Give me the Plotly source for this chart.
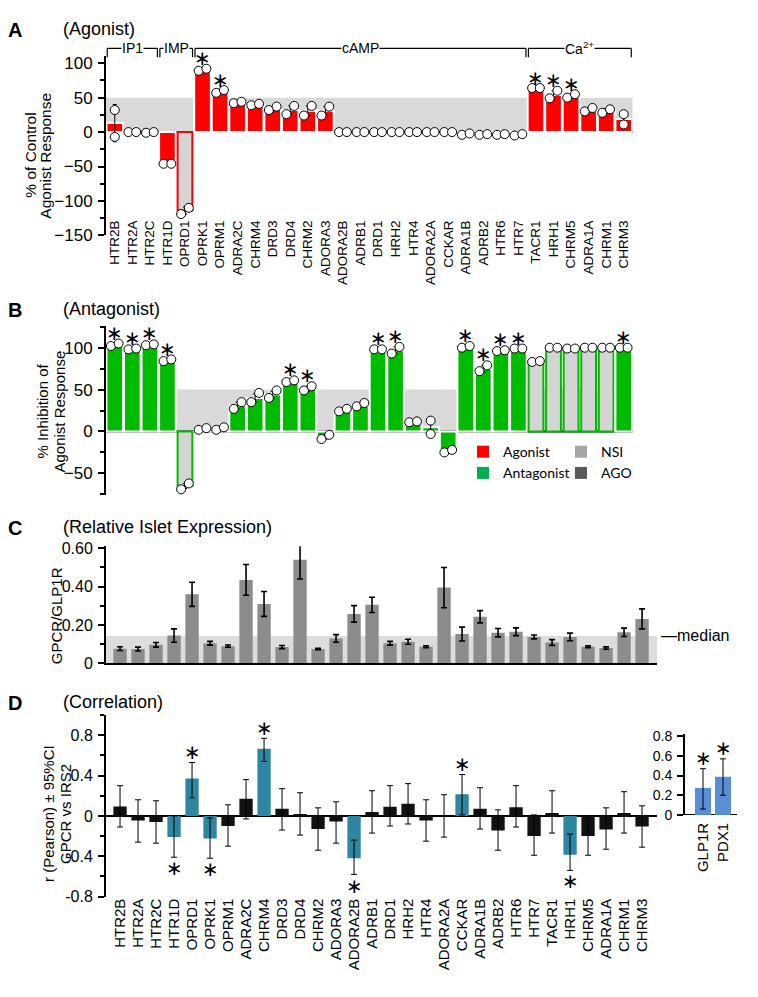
import plotly.graph_objects as go

W, H = 758, 997
OFF = 8  # default page margin of the html body
def fx(px): return (px - OFF) / W
def fy(py): return 1 - (py - OFF) / H

FONT = "Liberation Sans, Arial, sans-serif"
STAR = "\u2217"

receptors = ["HTR2B", "HTR2A", "HTR2C", "HTR1D", "OPRD1", "OPRK1", "OPRM1", "ADRA2C", "CHRM4",
             "DRD3", "DRD4", "CHRM2", "ADORA3", "ADORA2B", "ADRB1", "DRD1", "HRH2", "HTR4",
             "ADORA2A", "CCKAR", "ADRA1B", "ADRB2", "HTR6", "HTR7", "TACR1", "HRH1", "CHRM5",
             "ADRA1A", "CHRM1", "CHRM3"]

# ---------- Panel A (agonist) ----------
ago_mean = [13, 0, 0, -46, -114, 91, 59, 43, 40, 34, 32, 31, 31, 0, 0, 0, 0, 0, 0, 0,
            -3, -3, -4, -4, 64, 54, 52, 32, 31, 19]
ago_rep1 = [-7, 0, -1, -46, -119, 89, 57, 42, 39, 32, 26, 24, 24, 0, 0, 0, 0, 0, 0, 0,
            -4, -4, -4, -5, 64, 49, 50, 30, 28, 11]
ago_rep2 = [32, 0, 0, -46, -110, 92, 61, 44, 41, 37, 38, 38, 37, 0, 0, 0, 0, 0, 0, 0,
            -2, -3, -3, -3, 64, 60, 55, 35, 33, 26]
ago_sem = [27, 0, 0, 0, 5, 2, 2, 1, 1, 2, 6, 7, 6, 0, 0, 0, 0, 0, 0, 0,
           1, 1, 1, 1, 0, 6, 2, 3, 3, 7]
ago_nsi = ["OPRD1"]
ago_sig = ["OPRK1", "OPRM1", "TACR1", "HRH1", "CHRM5"]
group_names = ["IP1", "IMP", "cAMP", "Ca<sup>2+</sup>"]
group_first = ["HTR2B", "HTR1D", "OPRK1", "TACR1"]
group_last = ["HTR2C", "OPRD1", "HTR7", "CHRM3"]

# ---------- Panel B (antagonist) ----------
ant_mean = [104, 99, 103, 85, -65, 3, 4, 31, 40, 44, 60, 51, -7, 25, 31, 98, 97, 12, 5, -23,
            101, 75, 97, 99, 83, 100, 99, 100, 100, 100]
ant_rep1 = [102, 98, 103, 84, -69, 2, 2, 27, 35, 40, 59, 49, -9, 24, 30, 98, 93, 11, -3, -25,
            100, 72, 96, 99, 83, 100, 99, 100, 100, 100]
ant_rep2 = [105, 99, 104, 86, -62, 4, 5, 35, 46, 49, 61, 54, -4, 27, 34, 98, 101, 12, 13, -22,
            102, 79, 97, 99, 84, 100, 99, 100, 100, 100]
ant_sem = [2, 1, 0, 1, 3, 1, 1, 4, 5, 4, 1, 3, 2, 1, 2, 0, 4, 1, 7, 1,
           1, 4, 1, 0, 1, 0, 1, 0, 0, 0]
ant_nsi = ["OPRD1", "TACR1", "HRH1", "CHRM5", "ADRA1A", "CHRM1"]
ant_sig = ["HTR2B", "HTR2A", "HTR2C", "HTR1D", "DRD4", "CHRM2", "DRD1", "HRH2", "ADRA1B",
           "ADRB2", "HTR6", "HTR7", "CHRM3"]
legend_names = ["Agonist", "Antagonist", "NSI", "AGO"]

# ---------- Panel C (relative islet expression) ----------
expr_mean = [0.077, 0.075, 0.097, 0.145, 0.36, 0.105, 0.09, 0.435, 0.31, 0.085, 0.54, 0.075,
             0.13, 0.258, 0.305, 0.105, 0.113, 0.087, 0.395, 0.153, 0.243, 0.16, 0.165, 0.138,
             0.109, 0.138, 0.087, 0.08, 0.162, 0.232]
expr_sem = [0.01, 0.01, 0.012, 0.035, 0.063, 0.01, 0.006, 0.08, 0.065, 0.008, 0.1, 0.004,
            0.02, 0.043, 0.04, 0.01, 0.013, 0.005, 0.105, 0.036, 0.032, 0.022, 0.02, 0.01,
            0.015, 0.02, 0.005, 0.006, 0.022, 0.052]
expr_median = 0.143
c_tickvals = [0, 0.2, 0.4, 0.6]
c_ticktext = ["0", "0.20", "0.40", "0.60"]

# ---------- Panel D (correlation) ----------
corr_r = [0.094, -0.045, -0.06, -0.21, 0.37, -0.225, -0.1, 0.17, 0.665, 0.07, 0.02, -0.13,
          -0.055, -0.42, 0.04, 0.09, 0.12, -0.045, 0.0, 0.215, 0.07, -0.145, 0.085, -0.2,
          0.03, -0.385, -0.2, -0.135, 0.03, -0.105]
corr_hi = [0.30, 0.16, 0.15, 0.0, 0.53, -0.02, 0.11, 0.36, 0.77, 0.27, 0.23, 0.08,
           0.14, -0.24, 0.25, 0.30, 0.32, 0.16, 0.21, 0.41, 0.28, 0.06, 0.30, 0.01,
           0.25, -0.18, 0.0, 0.08, 0.24, 0.10]
corr_lo = [-0.11, -0.26, -0.27, -0.41, 0.18, -0.42, -0.30, -0.03, 0.54, -0.14, -0.19, -0.34,
           -0.27, -0.58, -0.17, -0.10, -0.08, -0.25, -0.21, 0.01, -0.13, -0.34, -0.11, -0.39,
           -0.17, -0.54, -0.39, -0.33, -0.17, -0.31]
corr_sig = ["HTR1D", "OPRD1", "OPRK1", "CHRM4", "ADORA2B", "CCKAR", "HRH1"]
ref_genes = ["GLP1R", "PDX1"]
ref_r = [0.275, 0.388]
ref_hi = [0.47, 0.57]
ref_lo = [0.06, 0.20]
d_tickvals = [-0.8, -0.4, 0, 0.4, 0.8]
d_ticktext = ["-0.8", "-0.4", "0", "0.4", "0.8"]
inset_tickvals = [0, 0.2, 0.4, 0.6, 0.8]
inset_ticktext = ["0", "0.2", "0.4", "0.6", "0.8"]

# ---------- colours / styles ----------
RED = "#ff0000"
GREEN = "#00bb00"
NSI_FILL = "#d4d4d4"
BAND = "#d9d9d9"
C_BAR = "#8c8c8c"
TEAL = "#2e86a3"
BLACKBAR = "#111111"
INSET = "#5a8fd8"
LEG_COLORS = ["#ff0000", "#00b050", "#a6a6a6", "#595959"]

n = len(receptors)
idx = list(range(n))
JIT = 0.22
STARFONT = dict(family="DejaVu Sans", size=20, color="black")

def jitter(r1, r2, pxscale):
    xs1, xs2 = [], []
    for i, (a, b) in enumerate(zip(r1, r2)):
        if abs(a - b) * pxscale > 10:
            xs1.append(i); xs2.append(i)
        else:
            xs1.append(i - JIT); xs2.append(i + JIT)
    return xs1, xs2

annotations = []
def add_stars(xs, ys, xr, yr):
    for x, y in zip(xs, ys):
        annotations.append(dict(x=x, y=y, xref=xr, yref=yr, text=STAR, showarrow=False,
                                font=STARFONT, xanchor="center", yanchor="middle"))

fig = go.Figure()

# Panel A bars
a_fill = [NSI_FILL if r in ago_nsi else RED for r in receptors]
a_line = [RED if r in ago_nsi else "white" for r in receptors]
a_width = [0.84 if r in ago_nsi else 0.95 for r in receptors]
fig.add_trace(go.Bar(x=idx, y=ago_mean, width=a_width, xaxis="x", yaxis="y",
                     marker=dict(color=a_fill, line=dict(color=a_line, width=2)),
                     error_y=dict(type="data", array=ago_sem, color="black", thickness=1, width=2),
                     showlegend=False, hoverinfo="skip"))
x1, x2 = jitter(ago_rep1, ago_rep2, 0.7)
fig.add_trace(go.Scatter(x=x1 + x2, y=ago_rep1 + ago_rep2, mode="markers", xaxis="x", yaxis="y",
                         marker=dict(size=9, color="white", line=dict(color="black", width=1)),
                         cliponaxis=False, showlegend=False, hoverinfo="skip"))
sx = [i for i, r in enumerate(receptors) if r in ago_sig]
add_stars(sx, [max(ago_rep1[i], ago_rep2[i]) + 15 for i in sx], "x", "y")

# Panel B bars
b_fill = [NSI_FILL if r in ant_nsi else GREEN for r in receptors]
b_line = [GREEN if r in ant_nsi else "white" for r in receptors]
b_width = [0.84 if r in ant_nsi else 0.95 for r in receptors]
fig.add_trace(go.Bar(x=idx, y=ant_mean, width=b_width, xaxis="x2", yaxis="y2",
                     marker=dict(color=b_fill, line=dict(color=b_line, width=2)),
                     error_y=dict(type="data", array=ant_sem, color="black", thickness=1, width=2),
                     showlegend=False, hoverinfo="skip"))
x1, x2 = jitter(ant_rep1, ant_rep2, 0.85)
fig.add_trace(go.Scatter(x=x1 + x2, y=ant_rep1 + ant_rep2, mode="markers", xaxis="x2", yaxis="y2",
                         marker=dict(size=9, color="white", line=dict(color="black", width=1)),
                         cliponaxis=False, showlegend=False, hoverinfo="skip"))
sx = [i for i, r in enumerate(receptors) if r in ant_sig]
add_stars(sx, [max(ant_rep1[i], ant_rep2[i]) + 13 for i in sx], "x2", "y2")
# legend entries
for k, (nm, col) in enumerate(zip(legend_names, LEG_COLORS)):
    fig.add_trace(go.Bar(x=[None], y=[None], name=nm, marker=dict(color=col, line=dict(width=0)),
                         xaxis="x2", yaxis="y2", showlegend=True,
                         legend="legend" if k < 2 else "legend2"))

# Panel C bars
fig.add_trace(go.Bar(x=idx, y=expr_mean, width=0.74, xaxis="x3", yaxis="y3",
                     marker=dict(color=C_BAR, line=dict(width=0)),
                     error_y=dict(type="data", array=expr_sem, color="black", thickness=1.6, width=3),
                     showlegend=False, hoverinfo="skip"))

# Panel D bars
d_fill = [TEAL if r in corr_sig else BLACKBAR for r in receptors]
fig.add_trace(go.Bar(x=idx, y=corr_r, width=0.74, xaxis="x4", yaxis="y4",
                     marker=dict(color=d_fill, line=dict(width=0)),
                     error_y=dict(type="data", symmetric=False,
                                  array=[h - r for h, r in zip(corr_hi, corr_r)],
                                  arrayminus=[r - l for r, l in zip(corr_r, corr_lo)],
                                  color="black", thickness=1, width=3),
                     showlegend=False, hoverinfo="skip"))
sx, sy = [], []
for i, r in enumerate(receptors):
    if r in corr_sig:
        sx.append(i)
        sy.append(corr_hi[i] + 0.1 if corr_r[i] > 0 else corr_lo[i] - 0.11)
add_stars(sx, sy, "x4", "y4")

# Inset
fig.add_trace(go.Bar(x=[0, 1], y=ref_r, width=0.8, xaxis="x5", yaxis="y5",
                     marker=dict(color=INSET, line=dict(width=0)),
                     error_y=dict(type="data", symmetric=False,
                                  array=[h - r for h, r in zip(ref_hi, ref_r)],
                                  arrayminus=[r - l for r, l in zip(ref_r, ref_lo)],
                                  color="black", thickness=1, width=3),
                     showlegend=False, hoverinfo="skip"))
add_stars([0, 1], [h + 0.11 for h in ref_hi], "x5", "y5")

# ---------- axes ----------
yax_common = dict(showline=True, linecolor="black", linewidth=2, ticks="outside", ticklen=6,
                  tickwidth=2, tickcolor="black", showgrid=False, zeroline=False,
                  ticklabelstandoff=2)
xhid = dict(showgrid=False, zeroline=False, showline=False, ticks="")
minor_common = dict(ticks="outside", ticklen=4, tickwidth=1.5, tickcolor="black",
                    tickmode="linear", tick0=0)

fig.update_layout(
    width=W, height=H, autosize=False, margin=dict(l=0, r=0, t=0, b=0),
    paper_bgcolor="white", plot_bgcolor="rgba(0,0,0,0)", barmode="overlay",
    font=dict(family=FONT, color="black"),
    xaxis=dict(domain=[fx(106), fx(632.5)], range=[-0.5, n - 0.5], anchor="free",
               position=fy(214), tickmode="array", tickvals=idx, ticktext=receptors,
               tickangle=-90, tickfont=dict(size=13.5), **xhid),
    yaxis=dict(domain=[fy(233), fy(51)], range=[-150, 110], anchor="x", tickmode="linear",
               tick0=0, dtick=50, tickfont=dict(size=17), minor=dict(dtick=25, **minor_common),
               **yax_common),
    xaxis2=dict(domain=[fx(106), fx(632.5)], range=[-0.5, n - 0.5], anchor="y2",
                showticklabels=False, **xhid),
    yaxis2=dict(domain=[fy(497), fy(325)], range=[-76, 126], anchor="x2", tickmode="linear",
                tick0=0, dtick=50, tickfont=dict(size=17), minor=dict(dtick=25, **minor_common),
                **yax_common),
    xaxis3=dict(domain=[fx(106), fx(657)], range=[-0.78, n - 0.17], anchor="y3",
                showticklabels=False, showgrid=False, zeroline=False, showline=True,
                linecolor="black", linewidth=2, ticks=""),
    yaxis3=dict(domain=[fy(668), fy(549)], range=[0, 0.61], anchor="x3", tickmode="array",
                tickvals=c_tickvals, ticktext=c_ticktext, tickfont=dict(size=16),
                minor=dict(dtick=0.1, **minor_common), **yax_common),
    xaxis4=dict(domain=[fx(106), fx(657)], range=[-0.78, n - 0.17], anchor="free",
                position=fy(903), tickmode="array", tickvals=idx, ticktext=receptors,
                tickangle=-90, tickfont=dict(size=15), **xhid),
    yaxis4=dict(domain=[fy(905), fy(720.5)], range=[-0.8, 1.0], anchor="x4", tickmode="array",
                tickvals=d_tickvals, ticktext=d_ticktext, tickfont=dict(size=16),
                minor=dict(dtick=0.2, **minor_common), **yax_common),
    xaxis5=dict(domain=[fx(685), fx(737)], range=[-0.9, 1.7], anchor="free",
                position=fy(826), tickmode="array", tickvals=[0, 1], ticktext=ref_genes,
                tickangle=-90, tickfont=dict(size=15), **xhid),
    yaxis5=dict(domain=[fy(822), fy(740)], range=[0, 0.82], anchor="x5", tickmode="array",
                tickvals=inset_tickvals, ticktext=inset_ticktext, tickfont=dict(size=14),
                **yax_common),
    legend=dict(x=fx(463), y=fy(437), xanchor="left", yanchor="top", orientation="v",
                bgcolor="rgba(0,0,0,0)", font=dict(family="Lato", size=14), tracegroupgap=0),
    legend2=dict(x=fx(561), y=fy(437), xanchor="left", yanchor="top", orientation="v",
                 bgcolor="rgba(0,0,0,0)", font=dict(family="Lato", size=14), tracegroupgap=0),
)

shapes = []
# grey bands
shapes.append(dict(type="rect", xref="x domain", yref="y", x0=0, x1=1, y0=0, y1=50,
                   fillcolor=BAND, line=dict(width=0), layer="below"))
shapes.append(dict(type="rect", xref="x2 domain", yref="y2", x0=0, x1=1, y0=0, y1=50,
                   fillcolor=BAND, line=dict(width=0), layer="below"))
shapes.append(dict(type="rect", xref="x3 domain", yref="y3", x0=0, x1=1, y0=0, y1=expr_median,
                   fillcolor="#dddddd", line=dict(width=0), layer="below"))
# zero lines
for xr, yr in [("x", "y"), ("x2", "y2"), ("x4", "y4"), ("x5", "y5")]:
    shapes.append(dict(type="line", xref=xr + " domain", yref=yr, x0=0, x1=1, y0=0, y1=0,
                       line=dict(color="black", width=2), layer="below"))

# assay brackets (panel A)
for name, first, last in zip(group_names, group_first, group_last):
    i0 = receptors.index(first) - 0.5 + 0.07
    i1 = receptors.index(last) + 0.5 - 0.07
    shapes.append(dict(type="line", xref="x", yref="paper", x0=i0, x1=i1, y0=fy(43), y1=fy(43),
                       line=dict(color="black", width=1.2)))
    for xi in (i0, i1):
        shapes.append(dict(type="line", xref="x", yref="paper", x0=xi, x1=xi, y0=fy(43),
                           y1=fy(52), line=dict(color="black", width=1.2)))
    annotations.append(dict(x=(i0 + i1) / 2, y=fy(43), xref="x", yref="paper", text=name,
                            showarrow=False, bgcolor="white", borderpad=0,
                            font=dict(size=14), xanchor="center", yanchor="middle"))

# panel letters and titles
for letter, ty, title in [("A", 24, "(Agonist)"), ("B", 309, "(Antagonist)"),
                          ("C", 530, "(Relative Islet Expression)"), ("D", 708, "(Correlation)")]:
    annotations.append(dict(x=fx(15), y=fy(ty), xref="paper", yref="paper",
                            text="<b>%s</b>" % letter, showarrow=False, font=dict(size=20),
                            xanchor="center", yanchor="middle"))
    annotations.append(dict(x=fx(61), y=fy(ty - 1), xref="paper", yref="paper", text=title,
                            showarrow=False, font=dict(size=18), xanchor="left",
                            yanchor="middle"))

# y-axis titles
for txt, px, py, sz in [("% of Control", 31, 152, 15.5), ("Agonist Response", 46, 152, 15.5),
                        ("% Inhibition of", 43, 412, 15), ("Agonist Response", 60, 412, 15),
                        ("GPCR/GLP1R", 56, 620, 15),
                        ("r (Pearson) ± 95%CI", 49, 821, 15), ("GPCR vs IRS2", 66, 821, 15)]:
    annotations.append(dict(x=fx(px), y=fy(py), xref="paper", yref="paper", text=txt,
                            textangle=-90, showarrow=False, font=dict(size=sz),
                            xanchor="center", yanchor="middle"))

annotations.append(dict(x=fx(659), y=expr_median, xref="paper", yref="y3", text="—median",
                        showarrow=False, font=dict(size=16), xanchor="left", yanchor="middle"))

fig.update_layout(shapes=shapes, annotations=annotations)
fig.write_html("out.html")
